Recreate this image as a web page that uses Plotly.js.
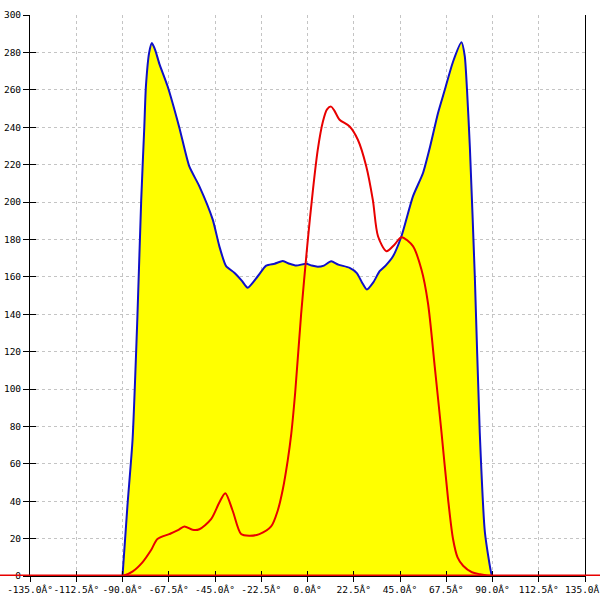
<!DOCTYPE html>
<html>
<head>
<meta charset="utf-8">
<script src="https://cdn.plot.ly/plotly-3.0.1.min.js"></script>
<style>html,body{margin:0;padding:0;background:#fff}#chart{width:600px;height:600px}</style>
</head>
<body>
<div id="chart"></div>
<script>
// Blue (filled) series
const blueX = [-90,-87.6,-85.1,-82.8,-80.9,-79.4,-78.6,-77,-75.7,-74,-72.1,-68.1,-62.4,-57.5,-52.6,-46.1,-42.9,-39.6,-35.6,-32,-29.1,-24.2,-20.1,-16,-12,-8.8,-5.5,-0.6,2,5,8,11.5,15,20.5,24,26.5,28.9,32,35.1,38,41.6,45.7,51.3,56.2,59.5,63.5,66.8,70.8,74.9,76.5,77.6,79,81.4,83.8,86.3,89.5,90];
const blueY = [0,37.5,73,137,201,240,262,280,285,281,274,262,240,219,208.4,190.6,176.4,165.7,162.2,158,154.2,160.3,166,167,168.4,167,166,167,166,165.4,166,168.3,166.5,164.8,162,157,153.2,157,163,166,171,181.7,203,215.5,229,247.6,260,275,285.4,278,260,229,160,76.7,23.4,1,0];

// Red series
const redX = [-135,-90,-85,-80.3,-76,-73,-67.3,-63,-59.9,-55.9,-52.6,-46.9,-42.9,-40,-36.4,-32.3,-28.3,-23.4,-17.7,-14.5,-12,-9.6,-7.9,-6,-3.1,0,2.6,5,7.5,9.5,11.5,13,15.6,20.5,24.5,28.6,31.8,34.3,38.4,42.4,45.7,51.3,55.4,58.6,61.9,65.2,68.4,70.8,73,75.7,80,83.8,90,135];
const redY = [0,0,2.5,7.3,14,19.8,22.4,24.5,26.5,24.7,25,30.4,39.3,44.3,34.9,22.4,21.5,22.4,26.5,34.9,46.4,62,76,98,140,178,206,228,243,249.5,251,249,244,240.4,233.3,219,201,181.7,173.7,177.3,181.2,176.4,164,146,112,76.7,41,19.8,10,5.5,2,1,0,0];

// Tick labels
const xTickVals = [-135,-112.5,-90,-67.5,-45,-22.5,0,22.5,45,67.5,90,112.5,135];
const xTickText = ["-135.0Â°","-112.5Â°","-90.0Â°","-67.5Â°","-45.0Â°","-22.5Â°","0.0Â°","22.5Â°","45.0Â°","67.5Â°","90.0Â°","112.5Â°","135.0Â°"];
const yTickVals = [0,20,40,60,80,100,120,140,160,180,200,220,240,260,280,300];

const font = {family: "DejaVu Sans Mono, monospace", size: 9.5, color: "#000"};

const traces = [
  {x: blueX, y: blueY, type: "scatter", mode: "lines", fill: "tozeroy", fillcolor: "#ffff00",
   line: {color: "#1010c8", width: 2, shape: "spline", smoothing: 0.6}, hoverinfo: "none"},
  {x: redX, y: redY, type: "scatter", mode: "lines",
   line: {color: "#e80000", width: 2, shape: "spline", smoothing: 0.8}, hoverinfo: "none"},
  {x: [0], y: [0], xaxis: "x2", yaxis: "y2", type: "scatter", mode: "none", hoverinfo: "none", showlegend: false}
];

const layout = {
  width: 600, height: 600,
  margin: {l: 30, r: 15, t: 15, b: 24},
  paper_bgcolor: "#fff", plot_bgcolor: "#fff",
  showlegend: false,
  font: font,
  xaxis: {range: [-135, 135], tickvals: xTickVals, ticktext: xTickText, tickangle: 0, ticks: "outside", ticklen: 5,
          ticklabeloverflow: "allow",
          tickcolor: "#000", showline: true, linecolor: "#000", linewidth: 1,
          showgrid: true, gridcolor: "#c4c4c4", griddash: "3px,3px", zeroline: false, tickfont: font, fixedrange: true},
  yaxis: {range: [0, 300], tickvals: yTickVals, ticks: "outside", ticklen: 6, tickcolor: "#000",
          showline: true, mirror: true, linecolor: "#000", linewidth: 1,
          showgrid: true, gridcolor: "#c4c4c4", griddash: "3px,3px", zeroline: false, tickfont: font, fixedrange: true},
  xaxis2: {range: [-135, 135], tickvals: xTickVals, overlaying: "x", anchor: "y2", ticks: "inside", ticklen: 5,
           tickcolor: "#000", showticklabels: false, showgrid: false, zeroline: false, showline: false},
  yaxis2: {range: [0, 300], tickvals: yTickVals, overlaying: "y", anchor: "x2", ticks: "inside", ticklen: 6,
           tickcolor: "#000", showticklabels: false, showgrid: false, zeroline: false, showline: false},
  shapes: [
    {type: "line", xref: "paper", yref: "y", x0: -0.055, x1: 1.03, y0: 0, y1: 0,
     line: {color: "#e80000", width: 3}, layer: "above"}
  ]
};

Plotly.newPlot("chart", traces, layout, {displayModeBar: false, staticPlot: true});
</script>
</body>
</html>
